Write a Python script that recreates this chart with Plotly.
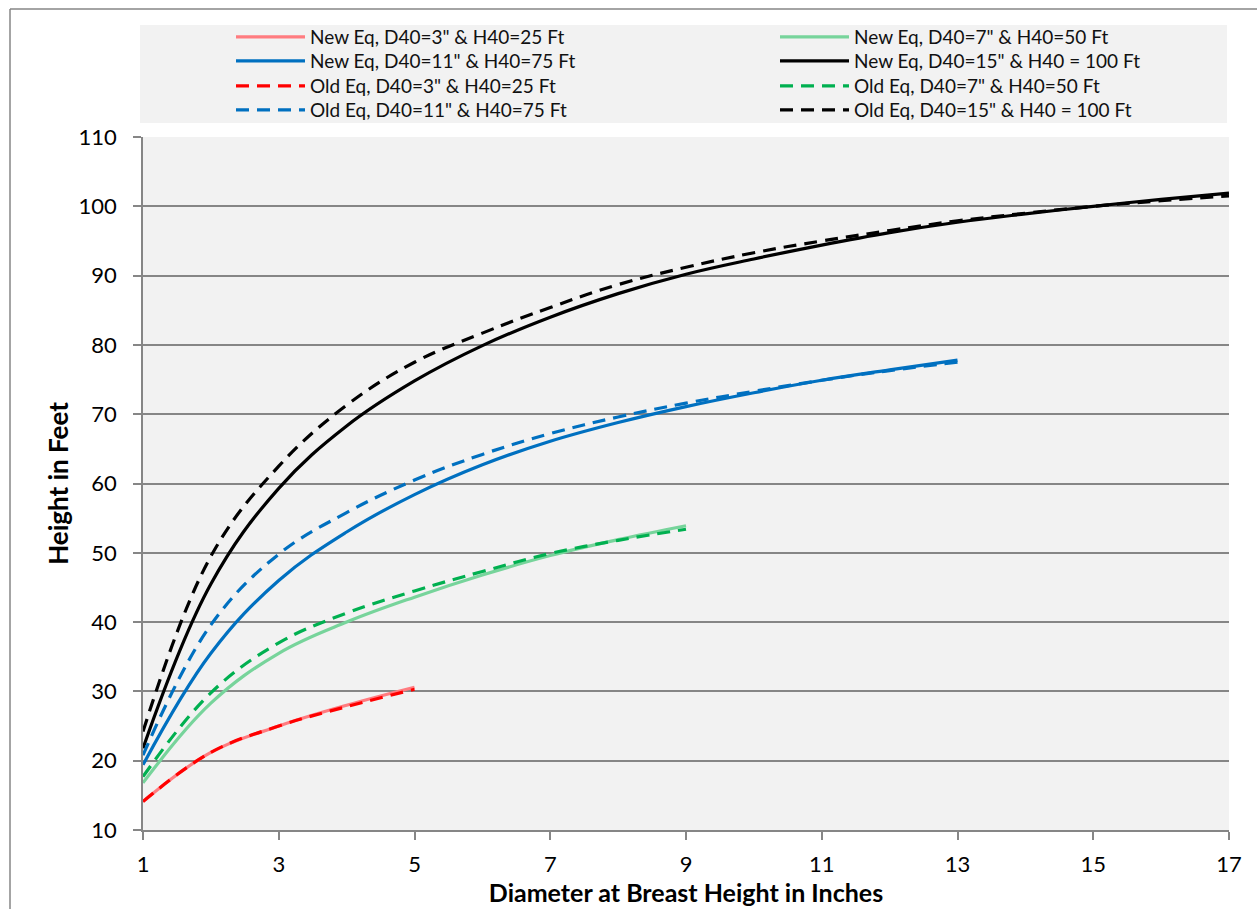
import plotly.graph_objects as go

# ---------------- data ----------------
dbh_red = [1, 2, 3, 4, 5]
dbh_green = [1, 2, 3, 4, 5, 6, 7, 8, 9]
dbh_blue = [1, 2, 3, 4, 5, 6, 7, 8, 9, 10, 11, 12, 13]
dbh_black = [1, 2, 3, 4, 5, 6, 7, 8, 9, 10, 11, 12, 13, 14, 15, 16, 17]

new_3_25 = [14.1, 21.2, 25.0, 28.0, 30.6]
new_7_50 = [16.8, 28.3, 35.5, 40.0, 43.6, 46.8, 49.6, 51.9, 53.9]
new_11_75 = [19.4, 35.5, 46.0, 53.0, 58.4, 62.7, 66.1, 68.8, 71.1, 73.1, 74.9, 76.4, 77.8]
new_15_100 = [21.8, 45.5, 59.3, 68.3, 74.8, 79.9, 84.0, 87.4, 90.2, 92.4, 94.4, 96.2,
              97.7, 98.9, 100.0, 101.0, 101.9]

old_3_25 = [14.1, 21.2, 25.0, 27.8, 30.3]
old_7_50 = [17.7, 29.8, 37.0, 41.3, 44.5, 47.3, 49.9, 51.8, 53.4]
old_11_75 = [20.8, 39.6, 49.8, 55.8, 60.5, 64.2, 67.2, 69.6, 71.6, 73.3, 74.9, 76.3, 77.5]
old_15_100 = [24.2, 49.5, 62.5, 71.3, 77.5, 81.7, 85.4, 88.7, 91.2, 93.3, 95.0, 96.5,
              97.9, 99.0, 100.0, 100.8, 101.5]

x_ticks = [1, 3, 5, 7, 9, 11, 13, 15, 17]
y_ticks = [10, 20, 30, 40, 50, 60, 70, 80, 90, 100, 110]

names = [
    'New Eq, D40=3" & H40=25 Ft',
    'New Eq, D40=7" & H40=50 Ft',
    'New Eq, D40=11" & H40=75 Ft',
    'New Eq, D40=15" & H40 = 100 Ft',
    'Old Eq, D40=3" & H40=25 Ft',
    'Old Eq, D40=7" & H40=50 Ft',
    'Old Eq, D40=11" & H40=75 Ft',
    'Old Eq, D40=15" & H40 = 100 Ft',
]

# ---------------- figure ----------------
FONT = "Lato"
W, H = 1257, 909
ML, MR, MT, MB = 143, 28, 137, 79
PW, PH = W - ML - MR, H - MT - MB


def px_x(px):
    return (px - ML) / PW


def px_y(py):
    return (H - MB - py) / PH


DASH = "13px,8px"
series = [
    (dbh_red, new_3_25, "#FF7C80", "solid"),
    (dbh_green, new_7_50, "#77D49B", "solid"),
    (dbh_blue, new_11_75, "#0070C0", "solid"),
    (dbh_black, new_15_100, "#000000", "solid"),
    (dbh_red, old_3_25, "#FF0000", DASH),
    (dbh_green, old_7_50, "#00B050", DASH),
    (dbh_blue, old_11_75, "#0070C0", DASH),
    (dbh_black, old_15_100, "#000000", DASH),
]

# legend slot positions (row, col)
slots = [(0, 0), (0, 1), (1, 0), (1, 1), (2, 0), (2, 1), (3, 0), (3, 1)]
row_y = [37, 61, 86, 110]
col_x = [231, 775]

fig = go.Figure()
for i, (xs, ys, col, dash) in enumerate(series):
    lg = "legend" if i == 0 else f"legend{i + 1}"
    fig.add_trace(go.Scatter(
        x=xs, y=ys, name=names[i], mode="lines",
        line=dict(color=col, width=3.2, dash=dash, shape="spline", smoothing=1.1),
        legend=lg,
    ))

layout_legends = {}
for i, (r, c) in enumerate(slots):
    key = "legend" if i == 0 else f"legend{i + 1}"
    layout_legends[key] = dict(
        x=px_x(col_x[c]), y=px_y(row_y[r]), xanchor="left", yanchor="middle",
        bgcolor="rgba(0,0,0,0)", borderwidth=0, itemwidth=69,
        font=dict(family=FONT, size=19, color="#111111"),
        tracegroupgap=0,
    )

fig.update_layout(
    width=W, height=H,
    margin=dict(l=ML, r=MR, t=MT, b=MB, autoexpand=False),
    paper_bgcolor="white",
    plot_bgcolor="#F2F2F2",
    showlegend=True,
    font=dict(family=FONT, color="#000000"),
    **layout_legends,
)

axis_col = "#868686"
fig.update_xaxes(
    range=[1, 17], tickvals=x_ticks, ticktext=[str(v) for v in x_ticks],
    showgrid=False, zeroline=False,
    showline=True, linecolor=axis_col, linewidth=1.5,
    ticks="outside", ticklen=8, tickwidth=1.5, tickcolor=axis_col,
    tickfont=dict(family=FONT, size=22, color="#000000"),
    ticklabelstandoff=6,
    title=dict(text="<b>Diameter at Breast Height in Inches</b>",
               font=dict(family=FONT, size=25, color="#000000"), standoff=7),
    automargin=False,
)
fig.update_yaxes(
    range=[10, 110], tickvals=y_ticks,
    showgrid=True, gridcolor=axis_col, gridwidth=1.5, zeroline=False,
    showline=True, linecolor=axis_col, linewidth=1.5,
    ticks="outside", ticklen=8, tickwidth=1.5, tickcolor=axis_col,
    tickfont=dict(family=FONT, size=22, color="#000000"),
    ticklabelstandoff=12,
    title=dict(text="<b>Height in Feet</b>",
               font=dict(family=FONT, size=26, color="#000000"), standoff=2),
    automargin=False,
)

# legend background panel and outer chart border
fig.add_shape(type="rect", xref="paper", yref="paper",
              x0=px_x(140), x1=px_x(1227), y0=px_y(123), y1=px_y(25),
              fillcolor="#F2F2F2", line=dict(width=0), layer="below")
fig.add_shape(type="line", xref="paper", yref="paper",
              x0=px_x(10), x1=px_x(1300), y0=px_y(9), y1=px_y(9),
              line=dict(color=axis_col, width=1.5))
fig.add_shape(type="line", xref="paper", yref="paper",
              x0=px_x(10), x1=px_x(10), y0=px_y(9), y1=px_y(940),
              line=dict(color=axis_col, width=1.5))

fig.write_html("out.html")
